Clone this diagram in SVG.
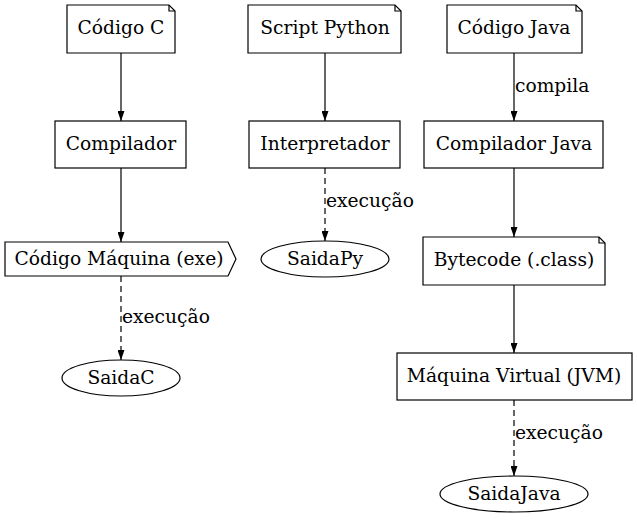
<svg xmlns="http://www.w3.org/2000/svg" width="637" height="523" viewBox="0 0 637 523">
<style>
text{font-family:"DejaVu Serif","Liberation Serif",serif;font-size:18.67px;fill:#000}
.n text{text-anchor:middle}
.s{fill:#fff;stroke:#000;stroke-width:1.2}
.e{stroke:#000;stroke-width:1.2;fill:none}
.d{stroke-dasharray:6,4}
</style>
<defs>
<marker id="a" viewBox="0 0 10 7" refX="10" refY="3.5" markerWidth="10" markerHeight="7" markerUnits="userSpaceOnUse" orient="auto">
<path d="M0,0L10,3.5L0,7z" fill="#000"/>
</marker>
</defs>
<rect width="637" height="523" fill="#fff"/>
<g id="edges">
<line class="e" x1="121" y1="53" x2="121" y2="121" marker-end="url(#a)"/>
<line class="e" x1="121" y1="168" x2="121" y2="242" marker-end="url(#a)"/>
<line class="e d" x1="121" y1="276" x2="121" y2="360" marker-end="url(#a)"/>
<text x="122" y="323">execução</text>
<line class="e" x1="325" y1="53" x2="325" y2="121" marker-end="url(#a)"/>
<line class="e d" x1="325" y1="168" x2="325" y2="241" marker-end="url(#a)"/>
<text x="326" y="207">execução</text>
<line class="e" x1="514" y1="53" x2="514" y2="121" marker-end="url(#a)"/>
<text x="515" y="92">compila</text>
<line class="e" x1="514" y1="168" x2="514" y2="237" marker-end="url(#a)"/>
<line class="e" x1="514" y1="285" x2="514" y2="353" marker-end="url(#a)"/>
<line class="e d" x1="514" y1="400" x2="514" y2="476" marker-end="url(#a)"/>
<text x="515" y="439">execução</text>
</g>
<g id="codigoC" class="n">
<path class="s" d="M67,5H169L175,11V53H67Z"/><path class="e" d="M169,5V11H175"/>
<text x="121" y="33.5">Código C</text>
</g>
<g id="compilador" class="n">
<rect class="s" x="55" y="121" width="131" height="47"/>
<text x="121" y="149.5">Compilador</text>
</g>
<g id="codigoMaquina" class="n">
<path class="s" d="M5,242H228L236,259L228,276H5Z"/>
<text x="119" y="264.5">Código Máquina (exe)</text>
</g>
<g id="saidaC" class="n">
<ellipse class="s" cx="121" cy="378" rx="59" ry="18"/>
<text x="121" y="383.5">SaidaC</text>
</g>
<g id="scriptPython" class="n">
<path class="s" d="M248,5H395L401,11V53H248Z"/><path class="e" d="M395,5V11H401"/>
<text x="325" y="33.5">Script Python</text>
</g>
<g id="interpretador" class="n">
<rect class="s" x="249" y="121" width="151" height="47"/>
<text x="325" y="149.5">Interpretador</text>
</g>
<g id="saidaPy" class="n">
<ellipse class="s" cx="325" cy="259" rx="64" ry="18"/>
<text x="325" y="264.5">SaidaPy</text>
</g>
<g id="codigoJava" class="n">
<path class="s" d="M447,5H576L582,11V53H447Z"/><path class="e" d="M576,5V11H582"/>
<text x="514" y="33.5">Código Java</text>
</g>
<g id="compiladorJava" class="n">
<rect class="s" x="424" y="121" width="179" height="47"/>
<text x="514" y="149.5">Compilador Java</text>
</g>
<g id="bytecode" class="n">
<path class="s" d="M423,237H599L605,243V285H423Z"/><path class="e" d="M599,237V243H605"/>
<text x="514" y="265.5">Bytecode (.class)</text>
</g>
<g id="jvm" class="n">
<rect class="s" x="397" y="353" width="235" height="47"/>
<text x="514" y="381.5">Máquina Virtual (JVM)</text>
</g>
<g id="saidaJava" class="n">
<ellipse class="s" cx="514" cy="494" rx="74" ry="18"/>
<text x="514" y="499.5">SaidaJava</text>
</g>
</svg>
